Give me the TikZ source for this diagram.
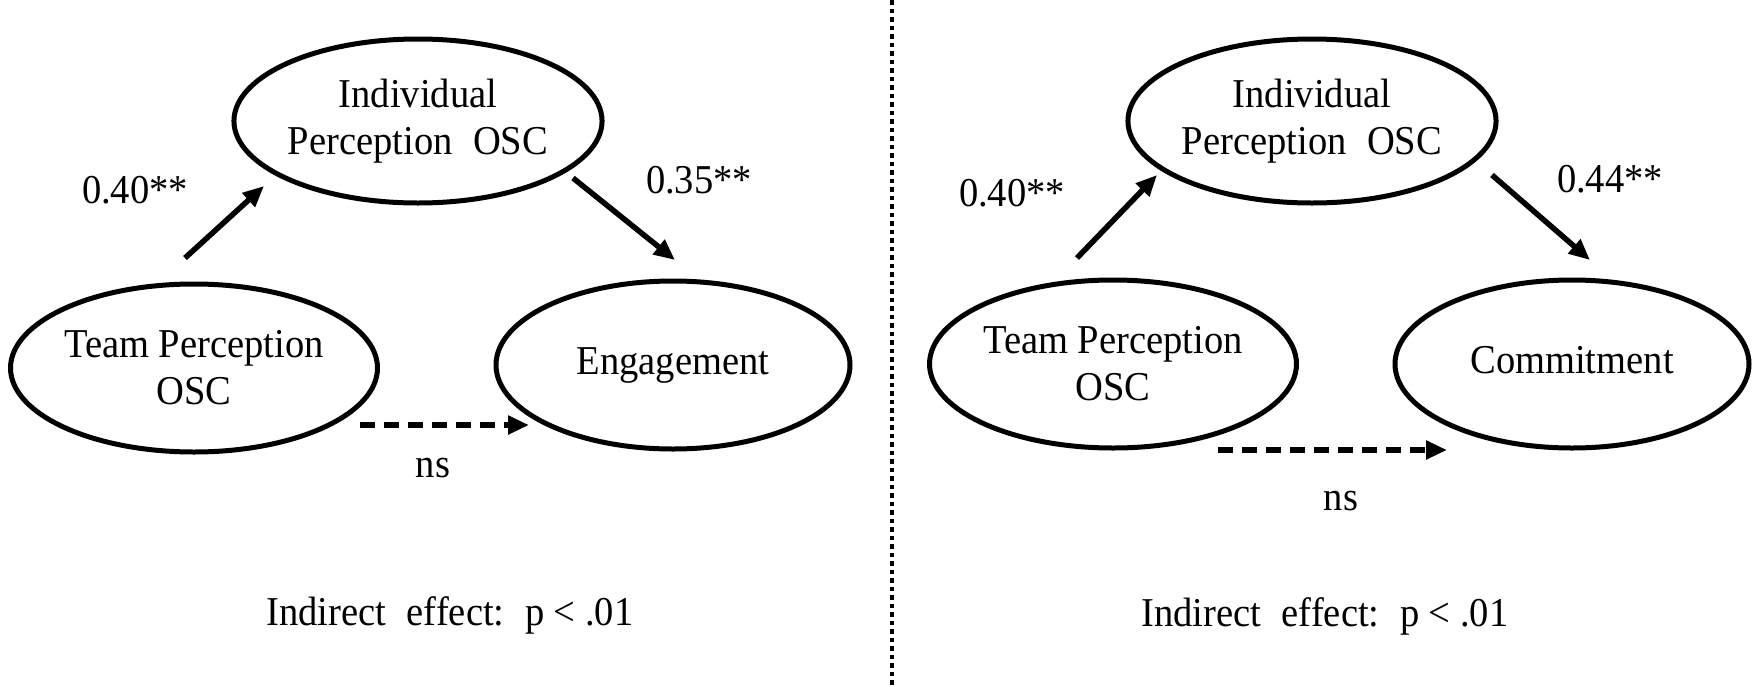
\documentclass[tikz,border=0pt]{standalone}
\usepackage{fontspec}
\setmainfont{Liberation Serif}[FakeStretch=0.94]
\usetikzlibrary{shapes.geometric,arrows.meta}
\begin{document}
\begin{tikzpicture}[x=1pt,y=-1pt,
  txt/.style={font=\fontsize{41}{47}\selectfont},
  latent/.style={txt,draw,ellipse,line width=5pt,inner sep=0pt,align=center},
  topell/.style={latent,minimum width=352pt,minimum height=164pt},
  botell/.style={latent,minimum width=354pt,minimum height=168pt},
  oneline/.style={text height=27pt,text depth=9pt},
  lbl/.style={txt,inner sep=0pt,anchor=base},
  solidarrow/.style={line width=5.5pt,-{Triangle[length=21pt,width=18pt]}},
  dasharrow/.style={line width=5.5pt,dash pattern=on 15pt off 9pt,-{Triangle[length=21pt,width=18pt]}},
  sep/.style={line width=4.5pt,dash pattern=on 4.5pt off 4pt}]
\useasboundingbox (0,0) rectangle (1762,686);
\fill[white] (0,0) rectangle (1762,686);

% ---------- left panel ----------
\node[topell] (indL) at (418,121) {Individual\\Perception\enspace OSC};
\node[botell] (teamL) at (194,368) {Team Perception\\OSC};
\node[botell,oneline] (engL) at (673,365) {Engagement};

\coordinate (a1sL) at (185,258);
\coordinate (a1eL) at (264,186);
\coordinate (a2sL) at (573,178);
\coordinate (a2eL) at (675,260);
\coordinate (a3sL) at (360,425);
\coordinate (a3eL) at (529,425);
\draw[solidarrow] (a1sL) -- (a1eL);
\draw[solidarrow] (a2sL) -- (a2eL);
\draw[dasharrow] (a3sL) -- (a3eL);

\node[lbl] (pL1) at (135,203) {0.40**};
\node[lbl] (pL2) at (699,193) {0.35**};
\node[lbl] (nsL) at (433,477) {ns};
\node[lbl] (indirL) at (450,625) {Indirect\enspace effect:\enspace p < .01};

% ---------- separator ----------
\coordinate (septop) at (892,0);
\coordinate (sepbot) at (892,686);
\draw[sep] (septop) -- (sepbot);

% ---------- right panel ----------
\node[topell] (indR) at (1312,121) {Individual\\Perception\enspace OSC};
\node[botell] (teamR) at (1113,364) {Team Perception\\OSC};
\node[botell,oneline] (comR) at (1572,364) {Commitment};

\coordinate (a1sR) at (1077,258);
\coordinate (a1eR) at (1157,175);
\coordinate (a2sR) at (1492,175);
\coordinate (a2eR) at (1590,260);
\coordinate (a3sR) at (1218,450);
\coordinate (a3eR) at (1447,450);
\draw[solidarrow] (a1sR) -- (a1eR);
\draw[solidarrow] (a2sR) -- (a2eR);
\draw[dasharrow] (a3sR) -- (a3eR);

\node[lbl] (pR1) at (1012,206) {0.40**};
\node[lbl] (pR2) at (1610,192) {0.44**};
\node[lbl] (nsR) at (1341,510) {ns};
\node[lbl] (indirR) at (1325,626) {Indirect\enspace effect:\enspace p < .01};
\end{tikzpicture}
\end{document}
